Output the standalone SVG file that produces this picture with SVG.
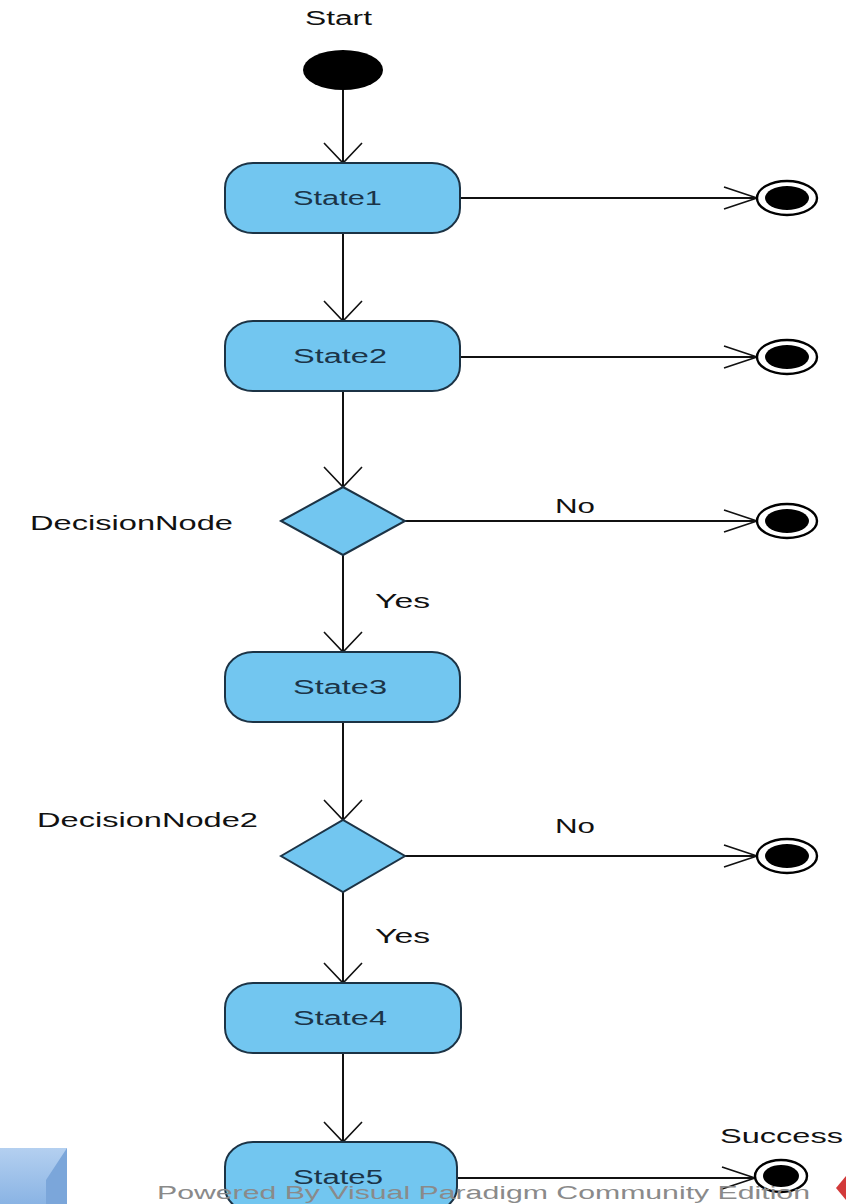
<svg xmlns="http://www.w3.org/2000/svg" width="846" height="1204" viewBox="0 0 846 1204">
<defs>
<style>
.st{fill:#72c6f0;stroke:#1c3345;stroke-width:2}
.lbl{font-family:"Liberation Sans",Arial,sans-serif;font-size:20px;fill:#111}
.stt{font-family:"Liberation Sans",Arial,sans-serif;font-size:20px;fill:#1b3448}
.ln{stroke:#111;stroke-width:2;fill:none}
.ah{stroke:#111;stroke-width:1.6;fill:none}
.wm{font-family:"Liberation Sans",Arial,sans-serif;font-size:18px;fill:#8a8a8a}
</style>
<linearGradient id="sq" x1="0" y1="0" x2="0" y2="1">
<stop offset="0" stop-color="#b4d0f0"/>
<stop offset="1" stop-color="#8ab4e4"/>
</linearGradient>
</defs>
<rect width="846" height="1204" fill="#ffffff"/>

<g id="connectors">
<line class="ln" x1="343" y1="90" x2="343" y2="163"/>
<polyline class="ah" points="324,143 343,163 362,143"/>
<line class="ln" x1="343" y1="233" x2="343" y2="321"/>
<polyline class="ah" points="324,301 343,321 362,301"/>
<line class="ln" x1="343" y1="391" x2="343" y2="487"/>
<polyline class="ah" points="324,467 343,487 362,467"/>
<line class="ln" x1="343" y1="555" x2="343" y2="652"/>
<polyline class="ah" points="324,632 343,652 362,632"/>
<line class="ln" x1="343" y1="722" x2="343" y2="820"/>
<polyline class="ah" points="324,800 343,820 362,800"/>
<line class="ln" x1="343" y1="892" x2="343" y2="983"/>
<polyline class="ah" points="324,963 343,983 362,963"/>
<line class="ln" x1="343" y1="1053" x2="343" y2="1142"/>
<polyline class="ah" points="324,1122 343,1142 362,1122"/>

<line class="ln" x1="460" y1="198" x2="757" y2="198"/>
<polyline class="ah" points="724,187 757,198 724,209"/>
<line class="ln" x1="460" y1="357" x2="757" y2="357"/>
<polyline class="ah" points="724,346 757,357 724,368"/>
<line class="ln" x1="405" y1="521" x2="757" y2="521"/>
<polyline class="ah" points="724,510 757,521 724,532"/>
<line class="ln" x1="405" y1="856" x2="757" y2="856"/>
<polyline class="ah" points="724,845 757,856 724,867"/>
<line class="ln" x1="457" y1="1178" x2="755" y2="1178"/>
<polyline class="ah" points="722,1167 755,1178 722,1189"/>

<text class="lbl" x="555" y="513" textLength="40" lengthAdjust="spacingAndGlyphs">No</text>
<text class="lbl" x="375" y="608" textLength="55" lengthAdjust="spacingAndGlyphs">Yes</text>
<text class="lbl" x="555" y="833" textLength="40" lengthAdjust="spacingAndGlyphs">No</text>
<text class="lbl" x="375" y="943" textLength="55" lengthAdjust="spacingAndGlyphs">Yes</text>
</g>

<g id="start">
<ellipse cx="343" cy="70" rx="40" ry="20" fill="#000"/>
<text class="lbl" x="305" y="25" textLength="67" lengthAdjust="spacingAndGlyphs">Start</text>
</g>

<g id="state1">
<rect class="st" x="225" y="163" width="235" height="70" rx="28" ry="25"/>
<text class="stt" x="293" y="205" textLength="89" lengthAdjust="spacingAndGlyphs">State1</text>
</g>
<g id="state2">
<rect class="st" x="225" y="321" width="235" height="70" rx="28" ry="25"/>
<text class="stt" x="293" y="363" textLength="94" lengthAdjust="spacingAndGlyphs">State2</text>
</g>
<g id="decision1">
<polygon class="st" points="281,521 343,487 405,521 343,555"/>
<text class="lbl" x="30" y="530" textLength="203" lengthAdjust="spacingAndGlyphs">DecisionNode</text>
</g>
<g id="state3">
<rect class="st" x="225" y="652" width="235" height="70" rx="28" ry="25"/>
<text class="stt" x="293" y="694" textLength="94" lengthAdjust="spacingAndGlyphs">State3</text>
</g>
<g id="decision2">
<polygon class="st" points="281,856 343,820 405,856 343,892"/>
<text class="lbl" x="37" y="827" textLength="221" lengthAdjust="spacingAndGlyphs">DecisionNode2</text>
</g>
<g id="state4">
<rect class="st" x="225" y="983" width="236" height="70" rx="28" ry="25"/>
<text class="stt" x="293" y="1025" textLength="94" lengthAdjust="spacingAndGlyphs">State4</text>
</g>
<g id="state5">
<rect class="st" x="225" y="1142" width="232" height="70" rx="28" ry="25"/>
<text class="stt" x="293" y="1184" textLength="90" lengthAdjust="spacingAndGlyphs">State5</text>
</g>

<g id="end1">
<ellipse cx="787" cy="198" rx="30" ry="17" fill="#fff" stroke="#000" stroke-width="2.4"/>
<ellipse cx="787" cy="198" rx="22" ry="12" fill="#000"/>
</g>
<g id="end2">
<ellipse cx="787" cy="357" rx="30" ry="17" fill="#fff" stroke="#000" stroke-width="2.4"/>
<ellipse cx="787" cy="357" rx="22" ry="12" fill="#000"/>
</g>
<g id="end3">
<ellipse cx="787" cy="521" rx="30" ry="17" fill="#fff" stroke="#000" stroke-width="2.4"/>
<ellipse cx="787" cy="521" rx="22" ry="12" fill="#000"/>
</g>
<g id="end4">
<ellipse cx="787" cy="856" rx="30" ry="17" fill="#fff" stroke="#000" stroke-width="2.4"/>
<ellipse cx="787" cy="856" rx="22" ry="12" fill="#000"/>
</g>
<g id="end5">
<ellipse cx="781" cy="1176" rx="26" ry="16" fill="#fff" stroke="#000" stroke-width="2.4"/>
<ellipse cx="781" cy="1176" rx="18" ry="11" fill="#000"/>
<text class="lbl" x="720" y="1143" textLength="123" lengthAdjust="spacingAndGlyphs">Success</text>
</g>

<g id="watermark">
<rect x="0" y="1148" width="67" height="56" fill="url(#sq)"/>
<polygon points="67,1148 46,1180 46,1204 67,1204" fill="#7ba6da"/>
<text class="wm" x="157" y="1199" textLength="653" lengthAdjust="spacingAndGlyphs">Powered By Visual Paradigm Community Edition</text>
<polygon points="846,1176 836,1188 846,1200" fill="#d23a3a"/>
</g>
</svg>
